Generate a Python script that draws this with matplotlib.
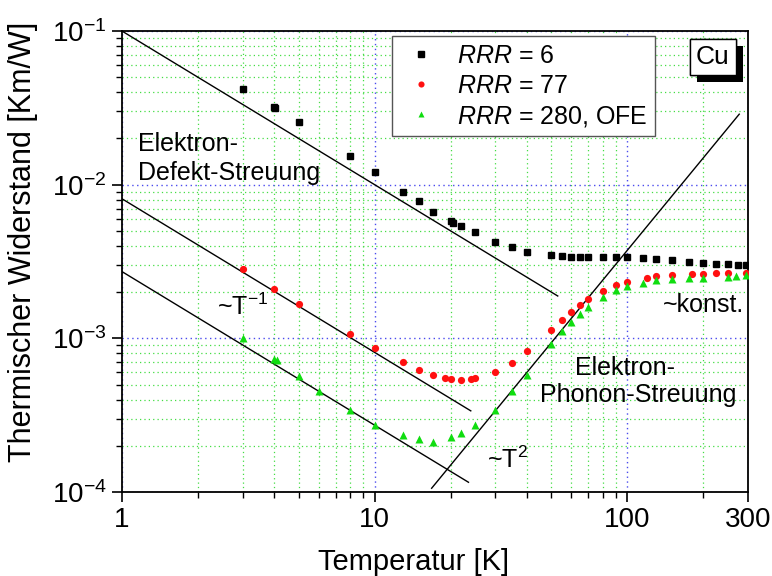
import matplotlib
matplotlib.use("Agg")
import matplotlib.pyplot as plt
from matplotlib import patheffects
from matplotlib.ticker import (FixedLocator, FixedFormatter, LogLocator,
                               NullFormatter, LogFormatterSciNotation)

plt.rcParams['font.family'] = ['Liberation Sans', 'DejaVu Sans']
plt.rcParams['mathtext.fontset'] = 'custom'
plt.rcParams['mathtext.rm'] = 'Liberation Sans'
plt.rcParams['mathtext.it'] = 'Liberation Sans:italic'
plt.rcParams['mathtext.bf'] = 'Liberation Sans:bold'
plt.rcParams['mathtext.default'] = 'regular'

# Thermal resistance of copper for three purities
T_rrr6 = [3, 4, 4.05, 5, 8, 10, 13, 15, 17, 20, 20.5, 22, 25, 30, 35, 40, 50, 55,
          60, 65, 70, 80, 90, 100, 115, 130, 150, 175, 200, 225, 250, 275, 295]
R_rrr6 = [4.2e-2, 3.2e-2, 3.15e-2, 2.56e-2, 1.54e-2, 1.21e-2, 8.96e-3, 7.83e-3,
          6.64e-3, 5.8e-3, 5.6e-3, 5.41e-3, 4.90e-3, 4.22e-3, 3.91e-3, 3.66e-3,
          3.47e-3, 3.44e-3, 3.40e-3, 3.39e-3, 3.39e-3, 3.39e-3, 3.39e-3, 3.39e-3,
          3.33e-3, 3.28e-3, 3.22e-3, 3.14e-3, 3.11e-3, 3.06e-3, 3.03e-3, 3.00e-3,
          2.99e-3]

T_rrr77 = [3, 4, 5, 8, 10, 13, 15, 17, 19, 20, 22, 24, 25, 30, 35, 40, 50, 55, 60,
           65, 70, 80, 90, 100, 120, 130, 150, 180, 200, 225, 250, 295]
R_rrr77 = [2.82e-3, 2.10e-3, 1.68e-3, 1.068e-3, 8.62e-4, 6.97e-4, 6.21e-4, 5.80e-4,
           5.48e-4, 5.42e-4, 5.39e-4, 5.40e-4, 5.50e-4, 6.00e-4, 6.92e-4, 8.24e-4,
           1.139e-3, 1.317e-3, 1.49e-3, 1.65e-3, 1.80e-3, 2.04e-3, 2.23e-3, 2.34e-3,
           2.46e-3, 2.54e-3, 2.57e-3, 2.64e-3, 2.64e-3, 2.65e-3, 2.65e-3, 2.65e-3]

T_rrr280 = [3, 4, 4.1, 5, 6, 8, 10, 13, 15, 17, 20, 22, 25, 30, 35, 40, 50, 55, 60,
            65, 70, 80, 90, 100, 115, 130, 150, 175, 200, 250, 270, 295]
R_rrr280 = [1.00e-3, 7.31e-4, 7.2e-4, 5.72e-4, 4.57e-4, 3.42e-4, 2.74e-4, 2.36e-4,
            2.22e-4, 2.13e-4, 2.28e-4, 2.42e-4, 2.72e-4, 3.44e-4, 4.55e-4, 5.80e-4,
            9.19e-4, 1.112e-3, 1.278e-3, 1.435e-3, 1.60e-3, 1.85e-3, 2.06e-3,
            2.19e-3, 2.30e-3, 2.40e-3, 2.42e-3, 2.46e-3, 2.48e-3, 2.52e-3, 2.55e-3,
            2.57e-3]

# Power-law guide lines R = c * T**n over a temperature range
guide_coef = [0.1, 8.1e-3, 2.72e-3, 3.75e-7]
guide_exp = [-1, -1, -1, 2]
guide_T = [(1, 53), (1, 24), (1, 23.5), (16.8, 277)]

x_ticks = [1, 10, 100, 300]
x_tick_labels = ['1', '10', '100', '300']

fig = plt.figure(figsize=(7.72, 5.76), dpi=100)
ax = fig.add_axes([0.158, 0.1458, 0.8109, 0.8003])
ax.set_xscale('log')
ax.set_yscale('log')
ax.set_xlim(1, 300)
ax.set_ylim(1e-4, 1e-1)

ax.xaxis.set_major_locator(FixedLocator(x_ticks))
ax.xaxis.set_major_formatter(FixedFormatter(x_tick_labels))
ax.xaxis.set_minor_locator(LogLocator(base=10, subs=range(2, 10), numticks=20))
ax.xaxis.set_minor_formatter(NullFormatter())
ax.yaxis.set_major_locator(LogLocator(base=10, numticks=10))
ax.yaxis.set_major_formatter(LogFormatterSciNotation())
ax.yaxis.set_minor_locator(LogLocator(base=10, subs=range(2, 10), numticks=20))
ax.yaxis.set_minor_formatter(NullFormatter())

ax.set_axisbelow(True)
ax.grid(which='minor', color='#44dd44', linestyle=(0, (1, 2.5)), linewidth=0.9)
ax.grid(which='major', color='#4a4aee', linestyle=(0, (1, 2.5)), linewidth=1.0)

ax.tick_params(which='major', direction='out', length=7, width=1.2,
               labelsize=20, top=False, right=False, colors='black')
ax.tick_params(axis='x', which='major', pad=3.5)
ax.tick_params(axis='y', which='major', pad=4)
ax.tick_params(which='minor', direction='out', length=4, width=1.0,
               top=False, right=False)
for sp in ax.spines.values():
    sp.set_linewidth(1.3)

for c, n, (t0, t1) in zip(guide_coef, guide_exp, guide_T):
    ax.plot([t0, t1], [c * t0 ** n, c * t1 ** n], color='black', lw=1.0, zorder=3)

ax.plot(T_rrr6, R_rrr6, linestyle='none', marker='s', ms=4.5, color='black',
        label=r'$\mathit{RRR}$ = 6', zorder=4)
ax.plot(T_rrr77, R_rrr77, linestyle='none', marker='o', ms=5.2, color='#ff1010',
        mec='none', label=r'$\mathit{RRR}$ = 77', zorder=4)
ax.plot(T_rrr280, R_rrr280, linestyle='none', marker='^', ms=5.8, color='#10dd10',
        mec='none', label=r'$\mathit{RRR}$ = 280, OFE', zorder=4)

leg = ax.legend(loc='upper left', bbox_to_anchor=(0.431, 0.989), frameon=True,
                fancybox=False, edgecolor='#555555', framealpha=1, fontsize=18,
                handlelength=1.76, handletextpad=0.56, borderpad=0.3,
                labelspacing=0.24, borderaxespad=0, markerscale=0.85)
leg.get_frame().set_linewidth(1.0)

cu = ax.text(0.944, 0.944, 'Cu', transform=ax.transAxes, ha='center', va='center',
             fontsize=19, zorder=6,
             bbox=dict(boxstyle='square,pad=0.22', fc='white', ec='black', lw=1.0))
cu.get_bbox_patch().set_path_effects([
    patheffects.withSimplePatchShadow(offset=(5, -5), shadow_rgbFace='black',
                                      alpha=1.0),
    patheffects.Normal()])

notes = [
    (0.0256, 0.7397, 'Elektron-'),
    (0.0256, 0.6768, 'Defekt-Streuung'),
    (0.1518, 0.384, r'~T$^{-1}$'),
    (0.583, 0.0521, r'~T$^{2}$'),
    (0.864, 0.3905, '~konst.'),
    (0.7236, 0.2538, 'Elektron-'),
    (0.6677, 0.1952, 'Phonon-Streuung'),
]
for x, y, s in notes:
    ax.text(x, y, s, transform=ax.transAxes, ha='left', va='baseline',
            fontsize=18, zorder=5)

ax.set_xlabel('Temperatur [K]', fontsize=21)
ax.set_ylabel('Thermischer Widerstand [Km/W]', fontsize=22)
ax.xaxis.set_label_coords(0.466, -0.121)
ax.yaxis.set_label_coords(-0.134, 0.543)

fig.savefig('out.png', dpi=100)
